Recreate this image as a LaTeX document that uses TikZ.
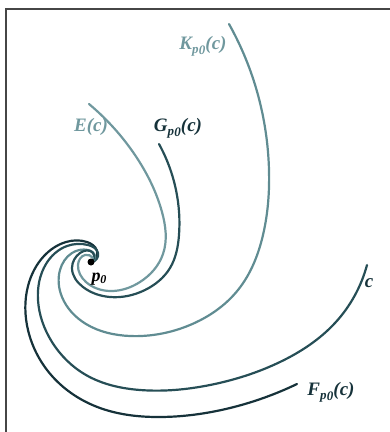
\documentclass[tikz,border=0pt]{standalone}
\usepackage{fontspec}
\setmainfont{Liberation Serif}
\usetikzlibrary{positioning,hobby}
\definecolor{spiralink}{RGB}{22,50,58}
\definecolor{spiraldark}{RGB}{38,78,86}
\definecolor{spiralmid}{RGB}{96,140,146}
\definecolor{spirallight}{RGB}{112,152,158}
\definecolor{framegray}{RGB}{70,70,70}
\newcommand{\pzsub}{\raisebox{-0.5ex}{\fontsize{13}{13}\selectfont p\kern0.3pt\raisebox{-0.2ex}{0}}}
\begin{document}
\begin{tikzpicture}[x=1pt, y=-1pt,
    curve/.style={line width=2.2pt, line cap=round, use Hobby shortcut},
    lbl/.style={font=\fontsize{19}{19}\selectfont\bfseries\itshape, inner sep=1pt},
    frame/.style={line width=1.6pt, color=framegray}
  ]
  \useasboundingbox (0,0) rectangle (390,432);
  \draw[frame] (390,9) -- (6,9) -- (6,432);

  % five curves winding into p0
  \draw[curve, spiralink] (297,384) .. (230,408) .. (160,417) .. (100,408) .. (52,376) .. (28,330) .. (28,286) .. (44,256) .. (66,242) .. (87,242) .. (97,251) .. (92,262);
  \draw[curve, spiraldark] (367,265) .. (335,323) .. (280,362) .. (210,385) .. (140,390) .. (86,375) .. (52,342) .. (38,300) .. (46,264) .. (67,246) .. (88,245) .. (98,253) .. (92,262);
  \draw[curve, spiralmid] (229,24) .. (258,95) .. (269,170) .. (263,235) .. (238,290) .. (190,325) .. (130,336) .. (86,324) .. (62,297) .. (60,270) .. (72,253) .. (88,250) .. (95,256) .. (91,262);
  \draw[curve, spiraldark] (159,144) .. (176,190) .. (179,235) .. (170,268) .. (145,290) .. (110,297) .. (83,287) .. (72,268) .. (80,253) .. (93,253) .. (91,262);
  \draw[curve, spirallight] (89,104) .. (135,155) .. (162,212) .. (163,254) .. (140,282) .. (110,291) .. (86,282) .. (78,265) .. (85,255) .. (93,258);

  \fill[black] (91,262) circle (3.5);

  % labels
  \node[lbl, spirallight] (labK) at (203,46) {K\pzsub(c)};
  \node[lbl, spirallight] (labE) at (91,127) {E(c)};
  \node[lbl, spiralink] (labG) at (178,128) {G\pzsub(c)};
  \node[lbl, spiralink] (labF) at (331,392) {F\pzsub(c)};
  \node[lbl, spiralink] (labc) at (369,283) {c};
  \node[lbl, black, font=\fontsize{18}{18}\selectfont\bfseries\itshape] (labp) at (99,279) {p\raisebox{-0.3ex}{\fontsize{12}{12}\selectfont 0}};
\end{tikzpicture}
\end{document}
